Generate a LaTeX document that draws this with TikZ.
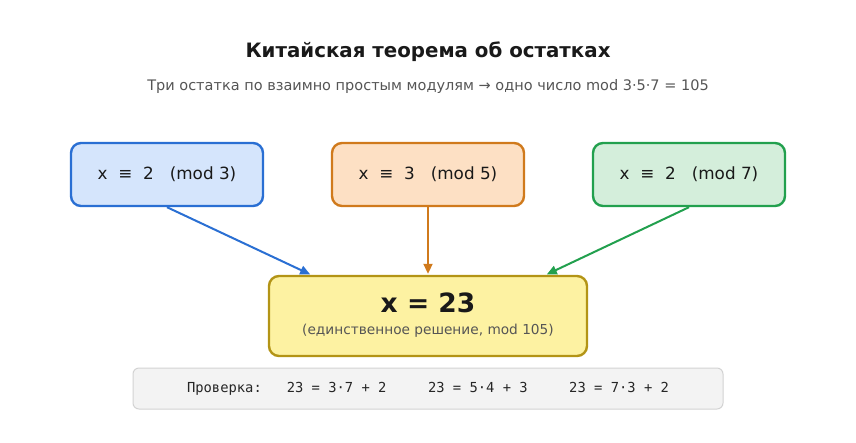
\documentclass[tikz,border=0pt]{standalone}
\usepackage{fontspec}
\setmainfont{DejaVu Sans}
\setmonofont{DejaVu Sans Mono}
\usetikzlibrary{calc,arrows.meta}
\definecolor{bluefill}{HTML}{D5E5FC}
\definecolor{blueline}{HTML}{2A6FD3}
\definecolor{orfill}{HTML}{FDE0C4}
\definecolor{orline}{HTML}{D07A1C}
\definecolor{grfill}{HTML}{D4EEDB}
\definecolor{grline}{HTML}{22A04E}
\definecolor{yefill}{HTML}{FDF2A2}
\definecolor{yeline}{HTML}{B39416}
\definecolor{chkfill}{HTML}{F3F3F3}
\definecolor{chkline}{HTML}{D3D3D3}
\definecolor{subgray}{HTML}{555555}
\tikzset{
  congbox/.style={draw,line width=2.4pt,rounded corners=10pt,minimum width=192pt,
    minimum height=63pt,inner sep=0pt,font=\fontsize{16.8}{20}\selectfont,text=black!90},
  resbox/.style={draw=yeline,fill=yefill,line width=2.4pt,rounded corners=10pt,
    minimum width=318pt,minimum height=80pt,inner sep=0pt},
  link/.style={line width=2pt,-{Triangle[length=10pt,width=9pt]},shorten >=1pt}
}
\begin{document}
\begin{tikzpicture}[x=1pt,y=-1pt]
\useasboundingbox (0,0) rectangle (856,442);

% title
\node[font=\bfseries\fontsize{19.8}{24}\selectfont,text=black!90] (title) at (428,52) {Китайская теорема об остатках};
\node[font=\fontsize{14.5}{18}\selectfont,text=subgray] (sub) at (428,86) {Три остатка по взаимно простым модулям → одно число mod 3·5·7 = 105};

% three congruences
\node[congbox,draw=blueline,fill=bluefill] (m3) at (167,174.5) {x\ \ ≡\ \ 2\ \ \ (mod 3)};
\node[congbox,draw=orline,fill=orfill] (m5) at (428,174.5) {x\ \ ≡\ \ 3\ \ \ (mod 5)};
\node[congbox,draw=grline,fill=grfill] (m7) at (689,174.5) {x\ \ ≡\ \ 2\ \ \ (mod 7)};

% solution
\node[resbox] (res) at (428,316) {};
\node[font=\bfseries\fontsize{26.5}{32}\selectfont,text=black!90] (val) at (428,303) {x = 23};
\node[font=\fontsize{13.7}{16}\selectfont,text=subgray] (uniq) at (428,331) {(единственное решение, mod 105)};

\draw[link,blueline] (m3.south) -- ($(res.north west)!0.135!(res.north east)$);
\draw[link,orline] (m5.south) -- (res.north);
\draw[link,grline] (m7.south) -- ($(res.north west)!0.868!(res.north east)$);

% check line
\node[draw=chkline,fill=chkfill,line width=1pt,rounded corners=6pt,minimum width=590pt,
  minimum height=41pt,inner sep=0pt,font=\ttfamily\fontsize{13.8}{16}\selectfont,text=black!85]
  (check) at (428,388.5)
  {Проверка:\ \ \ 23 = 3·7 + 2\ \ \ \ \ 23 = 5·4 + 3\ \ \ \ \ 23 = 7·3 + 2};
\end{tikzpicture}
\end{document}
